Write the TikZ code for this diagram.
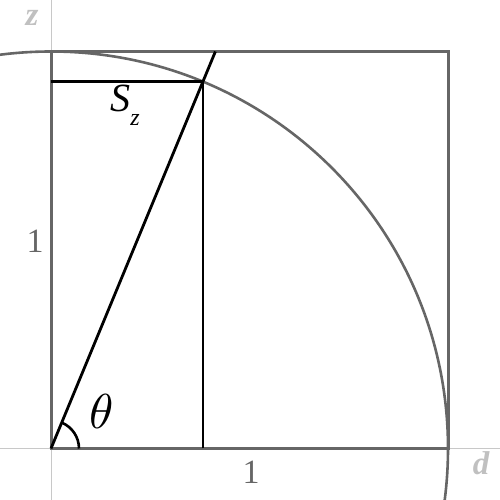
\documentclass[tikz,border=0pt]{standalone}
\usepackage{graphicx}
\usepackage{fontspec}
\setmainfont{Liberation Serif}
\newfontfamily\tnr{Liberation Serif}
\usetikzlibrary{calc}
\begin{document}
\begin{tikzpicture}[x=1pt,y=1pt,
  axis/.style={draw=axisgray,line width=1pt},
  frame/.style={draw=framegray,line width=3pt},
  blk/.style={draw=black,line width=2.8pt},
  axlab/.style={text=lablgray,font=\tnr\fontsize{33}{36}\selectfont\bfseries\itshape},
  numlab/.style={text=framegray,font=\tnr\fontsize{34}{38}\selectfont}]
\definecolor{axisgray}{RGB}{200,200,200}
\definecolor{lablgray}{RGB}{192,192,192}
\definecolor{framegray}{RGB}{102,102,102}
\useasboundingbox (0,0) rectangle (500,500);
\clip (0,0) rectangle (500,500);
\coordinate (O) at (51,51.5);
\coordinate (A) at (448,51.5);
\coordinate (B) at (448,448.5);
\coordinate (C) at (51,448.5);
\coordinate (P) at ($(O)+(67.5:397)$);
\coordinate (T) at (215.4,448.5);
\coordinate (Px) at (P |- O);
\coordinate (Pz) at (P -| O);
\coordinate (axT) at (51,500);
\coordinate (axB) at (51,0);
\coordinate (axL) at (0,51.5);
\coordinate (axR) at (500,51.5);
% axes
\draw[axis] (axB) -- (axT);
\draw[axis] (axL) -- (axR);
% square and circle
\draw[frame] (O) -- (A) -- (B) -- (C) -- cycle;
\draw[frame,line width=2.6pt] (O) circle[radius=397];
% black construction
\draw[blk] (O) -- (T);
\draw[blk] (Px) -- (P);
\draw[blk] (Pz) -- (P);
\draw[black,line width=2.6pt] ($(O)+(28,0)$) arc[start angle=0,end angle=67.5,radius=28];
% labels
\node[axlab] (zl) at (32,482) {z};
\node[axlab] (dl) at (481,37) {d};
\node[numlab] (one1) at (35,259) {1};
\node[numlab] (one2) at (251,28) {1};
\node (th) at (102,89) {\scalebox{4.9}{$\theta$}};
\node (sz) at (125,395) {\tnr\fontsize{40}{44}\selectfont\itshape S\raisebox{-0.35em}{\fontsize{24}{26}\selectfont z}};
\end{tikzpicture}
\end{document}
